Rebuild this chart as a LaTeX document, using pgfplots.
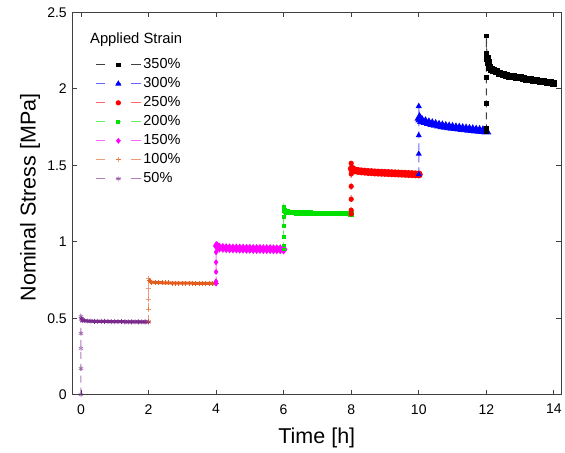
\documentclass[border=0pt]{standalone}
\usepackage{fontspec}
\setmainfont{Liberation Sans}
\usepackage{pgfplots}
\pgfplotsset{compat=1.18}
\definecolor{cgreen}{RGB}{0,225,0}
\definecolor{corange}{RGB}{228,92,30}
\definecolor{cpurple}{RGB}{122,42,140}
\definecolor{cmag}{RGB}{255,0,255}
\begin{document}
\begin{tikzpicture}
\begin{axis}[
  name=ax,
  scale only axis,
  width=489.4pt, height=382.7pt,
  xmin=-0.257, xmax=14.22,
  ymin=0, ymax=2.5,
  xtick={0,2,...,14},
  ytick={0,0.5,1,1.5,2,2.5},
  yticklabels={0,0.5,1,1.5,2,2.5},
  tick align=inside,
  ticks=major,
  major tick length=5pt,
  axis line style={black!75, line width=0.8pt},
  tick style={black!75, line width=0.8pt},
  /pgf/number format/assume math mode=true,
  ticklabel style={font=\fontsize{14}{16}\selectfont},
  xticklabel style={yshift=-6pt},
  yticklabel style={xshift=-2pt},
  xlabel={Time [h]},
  xlabel style={font=\fontsize{21.5}{24}\selectfont, inner sep=0pt, at={(axis description cs:0.5,0)}, anchor=north, yshift=-33pt},
  ramp/.style={line width=1pt, dash pattern=on 7pt off 5pt, draw opacity=0.6, mark options={solid, draw opacity=1}},
  plat/.style={line width=3.2pt, solid, forget plot, mark options={solid}},
  legend cell align=left,
  reverse legend,
  legend style={draw=none, fill=none, at={(axis description cs:0,1)}, anchor=north west,
    xshift=22.7pt, yshift=-45.4pt, font=\fontsize{14.5}{16}\selectfont,
    row sep=5pt, column sep=2pt, inner sep=0pt,
    nodes={inner sep=0pt, text height=11pt, text depth=3pt}},
  legend image code/.code={
    \draw[#1, solid, mark=none] (0pt,0pt) -- (9.5pt,0pt) (35.5pt,0pt) -- (45.3pt,0pt);
    \draw[#1, solid, mark repeat=2, mark phase=2] plot coordinates {(20pt,0pt) (22.7pt,0pt) (25.5pt,0pt)};
  },
]
% 50%
\addplot[color=cpurple, ramp, mark=asterisk, mark size=2.5pt, mark options={line width=0.8pt}] coordinates {
(0,0) (0,0.171) (0,0.303) (0,0.401) (0,0.511) (0.02,0.495)
};
\addlegendentry{50\%}
\addplot[color=cpurple, plat, line width=3pt, mark=asterisk, mark size=2.5pt, mark options={line width=0.8pt}] coordinates {
(0.02,0.495) (0.05,0.487) (0.1,0.484) (0.2,0.482) (0.3,0.481) (0.4,0.480) (0.5,0.480) (0.6,0.479) (0.7,0.479) (0.8,0.479) (0.9,0.478) (1.0,0.478) (1.1,0.478) (1.2,0.478) (1.3,0.477) (1.4,0.477) (1.5,0.477) (1.6,0.477) (1.7,0.477) (1.8,0.476) (1.9,0.476) (2.0,0.476)
};
% 100%
\addplot[color=corange, ramp, mark=+, mark size=2.5pt, mark options={line width=0.9pt}] coordinates {
(2,0.476) (2,0.559) (2,0.625) (2,0.693) (2,0.763) (2.02,0.745)
};
\addlegendentry{100\%}
\addplot[color=corange, plat, line width=3pt, mark=+, mark size=2.5pt, mark options={line width=0.9pt}] coordinates {
(2.02,0.745) (2.05,0.739) (2.1,0.736) (2.2,0.734) (2.3,0.733) (2.4,0.732) (2.5,0.731) (2.6,0.731) (2.7,0.730) (2.8,0.730) (2.9,0.730) (3.0,0.729) (3.1,0.729) (3.2,0.729) (3.3,0.729) (3.4,0.728) (3.5,0.728) (3.6,0.728) (3.7,0.728) (3.8,0.728) (3.9,0.727) (4.0,0.727)
};
% 150%
\addplot[color=cmag, ramp, mark=diamond*, mark size=2.2pt] coordinates {
(4,0.727) (4,0.741) (4,0.803) (4,0.866) (4,0.932) (4,0.982) (4.02,0.972)
};
\addlegendentry{150\%}
\addplot[color=cmag, plat, line width=3.4pt, mark=diamond*, mark size=2.2pt] coordinates {
(4.02,0.972) (4.05,0.966) (4.1,0.962) (4.2,0.960) (4.3,0.958) (4.4,0.957) (4.5,0.956) (4.6,0.956) (4.7,0.955) (4.8,0.955) (4.9,0.954) (5.0,0.954) (5.1,0.953) (5.2,0.953) (5.3,0.953) (5.4,0.952) (5.5,0.952) (5.6,0.952) (5.7,0.951) (5.8,0.951) (5.9,0.951) (6.0,0.950)
};
% 200%
\addplot[color=cgreen, ramp, mark=square*, mark size=1.4pt] coordinates {
(6,0.950) (6,0.976) (6,1.033) (6,1.103) (6,1.164) (6,1.226) (6.02,1.205)
};
\addlegendentry{200\%}
\addplot[color=cgreen, plat, line width=2.6pt, mark=square*, mark size=1.4pt] coordinates {
(6.02,1.205) (6.05,1.198) (6.1,1.195) (6.2,1.192) (6.3,1.190) (6.4,1.189) (6.5,1.188) (6.6,1.188) (6.7,1.187) (6.8,1.187) (6.9,1.186) (7.0,1.186) (7.1,1.185) (7.2,1.185) (7.3,1.185) (7.4,1.184) (7.5,1.184) (7.6,1.184) (7.7,1.183) (7.8,1.183) (7.9,1.183) (8.0,1.182)
};
% 250%
\addplot[color=red, ramp, mark=*, mark size=2.1pt] coordinates {
(8,1.182) (8,1.206) (8,1.278) (8,1.362) (8,1.443) (8,1.513) (8.02,1.478)
};
\addlegendentry{250\%}
\addplot[color=red, plat, line width=3.6pt, mark=*, mark size=2.1pt] coordinates {
(8.02,1.478) (8.05,1.471) (8.1,1.467) (8.2,1.463) (8.3,1.460) (8.4,1.458) (8.5,1.456) (8.6,1.455) (8.7,1.453) (8.8,1.452) (8.9,1.451) (9.0,1.450) (9.1,1.449) (9.2,1.448) (9.3,1.447) (9.4,1.446) (9.5,1.445) (9.6,1.444) (9.7,1.443) (9.8,1.442) (9.9,1.441) (10.0,1.440)
};
% 300%
\addplot[color=blue, ramp, mark=triangle*, mark size=2.6pt] coordinates {
(10,1.440) (10,1.574) (10,1.695) (10,1.811) (10,1.886) (10.02,1.810)
};
\addlegendentry{300\%}
\addplot[color=blue, plat, line width=3.4pt, mark=triangle*, mark size=2.4pt] coordinates {
(10.02,1.810) (10.05,1.800) (10.1,1.790) (10.2,1.783) (10.3,1.776) (10.4,1.770) (10.5,1.765) (10.6,1.760) (10.7,1.756) (10.8,1.752) (10.9,1.749) (11.0,1.746) (11.1,1.743) (11.2,1.741) (11.3,1.738) (11.4,1.736) (11.5,1.733) (11.6,1.731) (11.7,1.728) (11.8,1.726) (11.9,1.724) (12.0,1.721)
};
% 350%
\addplot[color=black, ramp, draw opacity=0.75, mark=square*, mark size=1.8pt] coordinates {
(12,1.721) (12,1.741) (12,1.904) (12,2.074) (12,2.230) (12,2.345) (12.02,2.200)
};
\addlegendentry{350\%}
\addplot[color=black, plat, line width=3.4pt, mark=square*, mark size=1.8pt] coordinates {
(12.02,2.200) (12.05,2.170) (12.1,2.140) (12.15,2.128) (12.2,2.120) (12.3,2.110) (12.4,2.100) (12.5,2.094) (12.6,2.088) (12.7,2.083) (12.8,2.079) (12.9,2.075) (13.0,2.071) (13.1,2.067) (13.2,2.063) (13.3,2.058) (13.4,2.055) (13.5,2.052) (13.6,2.048) (13.7,2.045) (13.8,2.042) (13.9,2.038) (14.0,2.034)
};
\end{axis}
\node[rotate=90, anchor=south, inner sep=0pt, font=\fontsize{21.5}{24}\selectfont] at ([xshift=-32pt, yshift=6pt]ax.west) {Nominal Stress [MPa]};
\node[anchor=base west, inner sep=0pt, font=\fontsize{14.8}{16}\selectfont] at ([xshift=17.7pt, yshift=-31.7pt]ax.north west) {Applied Strain};
\path ([xshift=-72.3pt, yshift=-58pt]ax.south west) rectangle ([xshift=3.3pt, yshift=12.3pt]ax.north east);
\end{tikzpicture}
\end{document}
